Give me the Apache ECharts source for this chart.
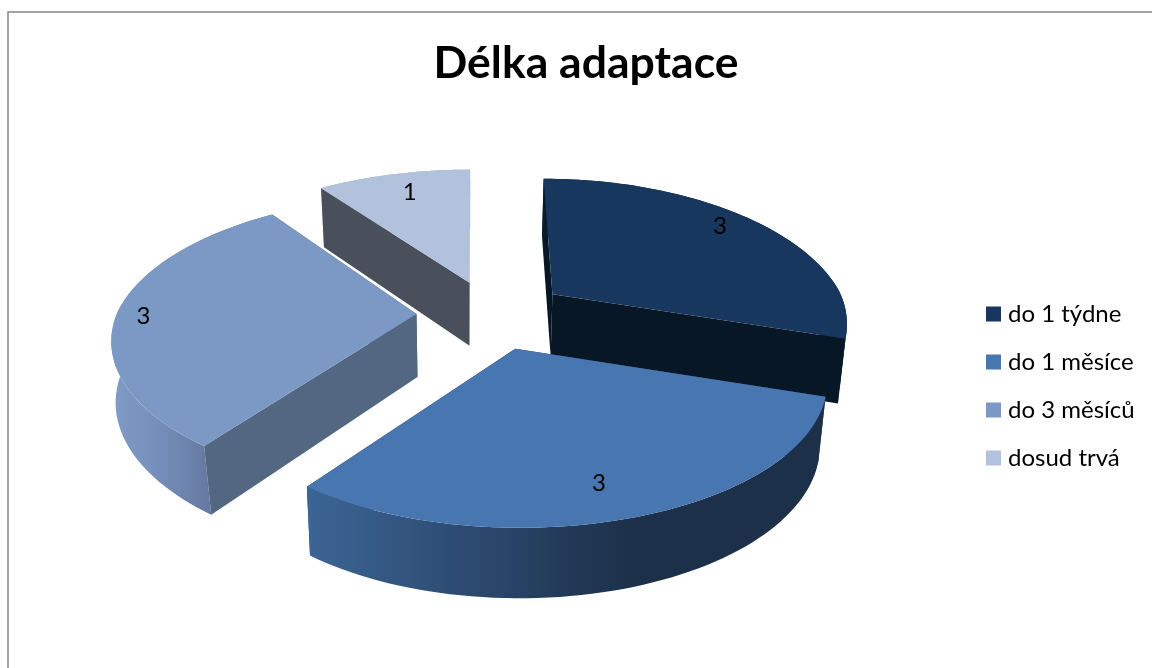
<!DOCTYPE html>
<html>
<head>
<meta charset="utf-8">
<style>html,body{margin:0;padding:0;background:#fff}#c{width:1152px;height:668px}</style>
<script src="https://cdn.jsdelivr.net/npm/echarts@6/dist/echarts.min.js"></script>
</head>
<body>
<div id="c"></div>
<script>
const titleText = 'Délka adaptace';
const categories = ['do 1 týdne', 'do 1 měsíce', 'do 3 měsíců', 'dosud trvá'];
const values = [3, 3, 3, 1];
const topColors = ['#17375E', '#4776B0', '#7C99C6', '#B3C2DC'];
const faceColors = ['#071725', '#2A4A70', '#536782', '#4A505B'];
const rimStops = [
  [[0, '#0A1B2C'], [1, '#0A1B2C']],
  [[0, '#3C6494'], [0.25, '#2F4F77'], [0.62, '#1C3049'], [1, '#1C3049']],
  [[0, '#7F9BC6'], [0.5, '#748EB9'], [1, '#64789F']],
  [[0, '#8FA2C2'], [1, '#8FA2C2']]
];
const rimRanges = [[550, 850], [310, 825], [112, 212], [320, 472]];
const labelRadius = [0.78, 0.8, 0.92, 0.8];
const labelNudge = [[7, -9], [-9, 7], [1, 6], [3, -1]];
const apexNudge = [3, 0, 0, 0.5];
const rimScaleX = [0.965, 1.005, 1, 1];
const rimShift = [[0, -1.5], [5, 2], [0, -4], [0.5, 1]];
// extra inward shift of the lower rim edge: [at the rim's mid depth, per unit of perspective]
const lowerRimShift = [[0, 0], [0, 0], [-4, 27.6], [0, 0]];

// view geometry of the tilted pie
const CX = 491, CY = 314, RX = 298, RY = 138.7, PERSP = 0.2165;
const EXPLODE = 0.25, DEPTH = 63, DEPTH_P = 27, SHRINK = 0.98, VX = 465, SKEW_X = 470, SKEW = 0.6;

const total = values.reduce((a, b) => a + b, 0);
function project(u, v) {
  const s = 1 / (1 - PERSP * v);
  return { x: RX * u * s, y: RY * v * s, s };
}
function dirOf(a) { return [Math.sin(a), -Math.cos(a)]; }

function renderSlice(idx) {
  return function (params, api) {
    const value = api.value(0), before = api.value(1), sum = api.value(2);
    const a0 = before / sum * Math.PI * 2;
    const a1 = (before + value) / sum * Math.PI * 2;
    const mid = (a0 + a1) / 2;
    const md = dirOf(mid);
    const ap = project(md[0] * EXPLODE, md[1] * EXPLODE);
    const ax = CX + ap.x + apexNudge[idx], ay = CY + ap.y;
    const pt = function (r, a) {
      const d = dirOf(a), p = project(d[0] * r, d[1] * r);
      const skew = p.s < 1 ? (ax - SKEW_X) * (p.s - 1) * SKEW : 0;
      return {
        x: ax + p.x * rimScaleX[idx] + skew + rimShift[idx][0] * r,
        y: ay + p.y + rimShift[idx][1] * r,
        s: p.s, r: r
      };
    };
    const low = function (q) {
      const extra = q.r * (lowerRimShift[idx][0] + lowerRimShift[idx][1] * (q.s - 1));
      return [VX + (q.x - VX) * SHRINK + extra, q.y + DEPTH + DEPTH_P * (q.s - 1)];
    };
    const upp = function (q) { return [q.x, q.y]; };

    const n = 64, arc = [];
    for (let i = 0; i <= n; i++) arc.push(pt(1, a0 + (a1 - a0) * i / n));
    const apex = pt(0, a0);
    const base = (3 + 10 * [1, 3, 2, 0][idx]);   // paint order: farthest slice first

    const face = function (q) {
      return [upp(apex), upp(q), low(q), low(apex)];
    };
    const startFaces = -Math.sin(a0) > 1e-6;
    const endFaces = Math.sin(a1) > 1e-6;
    const range = rimRanges[idx];
    const grad = new echarts.graphic.LinearGradient(range[0], 0, range[1], 0,
      rimStops[idx].map(s => ({ offset: s[0], color: s[1] })), true);

    const children = [
      { type: 'polygon', z2: base + (startFaces ? 2 : 0), shape: { points: face(arc[0]) }, style: { fill: faceColors[idx] } },
      { type: 'polygon', z2: base + (endFaces ? 2 : 0), shape: { points: face(arc[n]) }, style: { fill: faceColors[idx] } },
      { type: 'polygon', z2: base + 1, shape: { points: arc.map(upp).concat(arc.slice().reverse().map(low)) }, style: { fill: grad } },
      { type: 'polygon', z2: base + 3, shape: { points: [upp(apex)].concat(arc.map(upp)) }, style: { fill: topColors[idx] } }
    ];
    const lp = pt(labelRadius[idx], mid);
    children.push({
      type: 'text', z2: 100,
      style: {
        text: String(value), x: lp.x + labelNudge[idx][0], y: lp.y + labelNudge[idx][1],
        fill: '#000', align: 'center', verticalAlign: 'middle', font: '24px Lato'
      }
    });
    return { type: 'group', children };
  };
}

let running = 0;
const series = categories.map((name, i) => {
  const row = [values[i], running, total];
  running += values[i];
  return {
    type: 'custom', name, coordinateSystem: 'none', silent: true,
    itemStyle: { color: topColors[i] },
    renderItem: renderSlice(i),
    data: [row]
  };
});

const chart = echarts.init(document.getElementById('c'), null, { renderer: 'canvas' });
chart.setOption({
  animation: false,
  backgroundColor: '#fff',
  title: {
    text: titleText, left: 581, top: 36, textAlign: 'center',
    textStyle: { fontFamily: 'Lato', fontWeight: 'bold', fontSize: 44.5, color: '#000' }
  },
  legend: {
    orient: 'vertical', left: 986, top: 302, icon: 'rect',
    itemWidth: 15, itemHeight: 15, itemGap: 24, padding: 0, selectedMode: false,
    textStyle: { fontFamily: 'Lato', fontSize: 24, lineHeight: 15, color: '#000', padding: [0, 0, 0, 2] },
    data: categories
  },
  graphic: [{
    type: 'rect', silent: true, z: -1,
    shape: { x: 8, y: 12, width: 2000, height: 2000 },
    style: { fill: 'none', stroke: '#868686', lineWidth: 1.5 }
  }],
  series
});
</script>
</body>
</html>
